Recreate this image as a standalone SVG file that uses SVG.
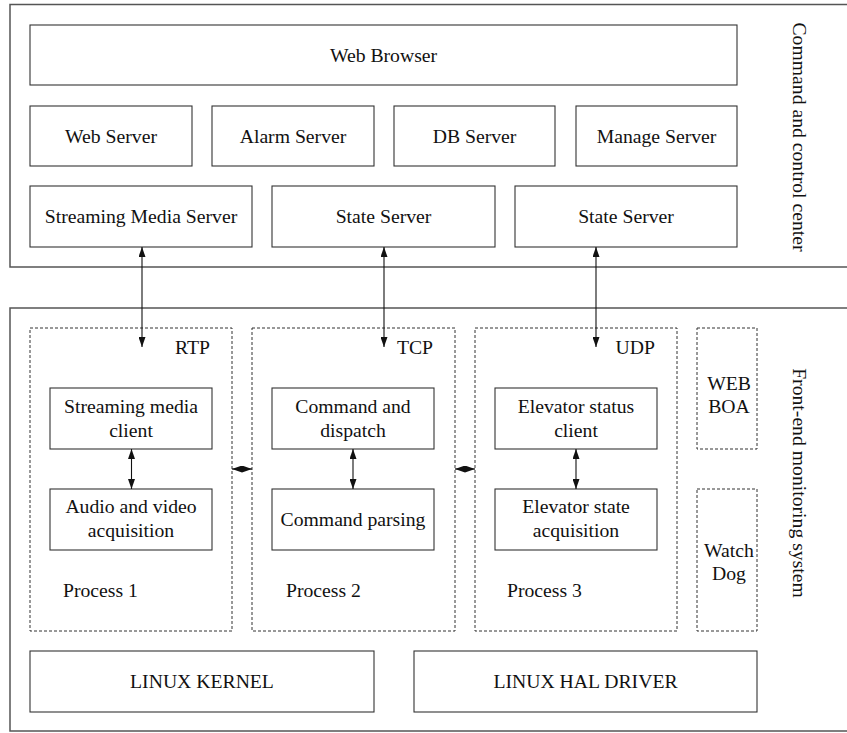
<svg xmlns="http://www.w3.org/2000/svg" width="847" height="733" viewBox="0 0 847 733">
<style>
text{font-family:"Liberation Serif","Times New Roman",serif;font-size:19.7px;fill:#111;text-anchor:middle}
.outer{fill:none;stroke:#555;stroke-width:1.5}
.box{fill:#fff;stroke:#333;stroke-width:1.1}
.dash{fill:none;stroke:#333;stroke-width:1;stroke-dasharray:3 2}
.conn{stroke:#111;stroke-width:1.1;fill:none}
.l{text-anchor:start}
.r{text-anchor:end}
</style>
<defs>
<marker id="ah" viewBox="0 0 10 7" refX="10" refY="3.5" markerWidth="10" markerHeight="7" markerUnits="userSpaceOnUse" orient="auto-start-reverse">
<path d="M0,0 L10,3.5 L0,7 z" fill="#111"/>
</marker>
<marker id="ahs" viewBox="0 0 10 7" refX="10" refY="3.5" markerWidth="10" markerHeight="7" markerUnits="userSpaceOnUse" orient="auto-start-reverse">
<path d="M0,0 L10,3.5 L0,7 z" fill="#111"/>
</marker>
</defs>

<g id="command-center">
<rect class="outer" x="10" y="4.5" width="845" height="262.5"/>
<text transform="translate(793,137) rotate(90)">Command and control center</text>
</g>
<g id="web-browser"><rect class="box" x="30" y="25" width="707" height="60"/><text x="383.5" y="62">Web Browser</text></g>
<g id="web-server"><rect class="box" x="30" y="106" width="162" height="60"/><text x="111" y="143">Web Server</text></g>
<g id="alarm-server"><rect class="box" x="212" y="106" width="162" height="60"/><text x="293" y="143">Alarm Server</text></g>
<g id="db-server"><rect class="box" x="394" y="106" width="161" height="60"/><text x="474.5" y="143">DB Server</text></g>
<g id="manage-server"><rect class="box" x="576" y="106" width="161" height="60"/><text x="656.5" y="143">Manage Server</text></g>
<g id="streaming-media-server"><rect class="box" x="30" y="186" width="222" height="61"/><text x="141" y="223">Streaming Media Server</text></g>
<g id="state-server-1"><rect class="box" x="272" y="186" width="223" height="61"/><text x="383.5" y="223">State Server</text></g>
<g id="state-server-2"><rect class="box" x="515" y="186" width="222" height="61"/><text x="626" y="223">State Server</text></g>

<g id="front-end">
<rect class="outer" x="10" y="308" width="845" height="423"/>
<text transform="translate(793,483) rotate(90)">Front-end monitoring system</text>
</g>
<g id="process-1">
<rect class="dash" x="30" y="328" width="202" height="303"/>
<text class="r" x="210" y="354">RTP</text>
<text class="l" x="63" y="597">Process 1</text>
</g>
<g id="process-2">
<rect class="dash" x="252" y="328" width="203" height="303"/>
<text class="r" x="433" y="354">TCP</text>
<text class="l" x="286" y="597">Process 2</text>
</g>
<g id="process-3">
<rect class="dash" x="475" y="328" width="202" height="303"/>
<text class="r" x="655" y="354">UDP</text>
<text class="l" x="507" y="597">Process 3</text>
</g>
<g id="web-boa"><rect class="dash" x="697" y="328" width="60" height="121"/><text x="729" y="390">WEB</text><text x="729" y="413">BOA</text></g>
<g id="watch-dog"><rect class="dash" x="697" y="489" width="60" height="142"/><text x="729" y="557">Watch</text><text x="729" y="580">Dog</text></g>

<g id="streaming-media-client"><rect class="box" x="50" y="388" width="162" height="61"/><text x="131" y="413">Streaming media</text><text x="131" y="437">client</text></g>
<g id="audio-video-acquisition"><rect class="box" x="50" y="489" width="162" height="61"/><text x="131" y="513">Audio and video</text><text x="131" y="537">acquisition</text></g>
<g id="command-dispatch"><rect class="box" x="272" y="388" width="162" height="61"/><text x="353" y="413">Command and</text><text x="353" y="437">dispatch</text></g>
<g id="command-parsing"><rect class="box" x="272" y="489" width="162" height="61"/><text x="353" y="526">Command parsing</text></g>
<g id="elevator-status-client"><rect class="box" x="495" y="388" width="162" height="61"/><text x="576" y="413">Elevator status</text><text x="576" y="437">client</text></g>
<g id="elevator-state-acquisition"><rect class="box" x="495" y="489" width="162" height="61"/><text x="576" y="513">Elevator state</text><text x="576" y="537">acquisition</text></g>

<g id="linux-kernel"><rect class="box" x="30" y="651" width="344" height="61"/><text x="202" y="688">LINUX KERNEL</text></g>
<g id="linux-hal-driver"><rect class="box" x="414" y="651" width="343" height="61"/><text x="585.5" y="688">LINUX HAL DRIVER</text></g>

<g id="connectors">
<line class="conn" x1="142" y1="247" x2="142" y2="347" marker-start="url(#ah)" marker-end="url(#ah)"/>
<line class="conn" x1="384" y1="247" x2="384" y2="347" marker-start="url(#ah)" marker-end="url(#ah)"/>
<line class="conn" x1="596" y1="247" x2="596" y2="347" marker-start="url(#ah)" marker-end="url(#ah)"/>
<line class="conn" x1="131.5" y1="449" x2="131.5" y2="489" marker-start="url(#ah)" marker-end="url(#ah)"/>
<line class="conn" x1="353" y1="449" x2="353" y2="489" marker-start="url(#ah)" marker-end="url(#ah)"/>
<line class="conn" x1="576" y1="449" x2="576" y2="489" marker-start="url(#ah)" marker-end="url(#ah)"/>
<line class="conn" x1="232" y1="469" x2="252" y2="469" marker-start="url(#ahs)" marker-end="url(#ahs)"/>
<line class="conn" x1="455" y1="469" x2="475" y2="469" marker-start="url(#ahs)" marker-end="url(#ahs)"/>
</g>
</svg>
